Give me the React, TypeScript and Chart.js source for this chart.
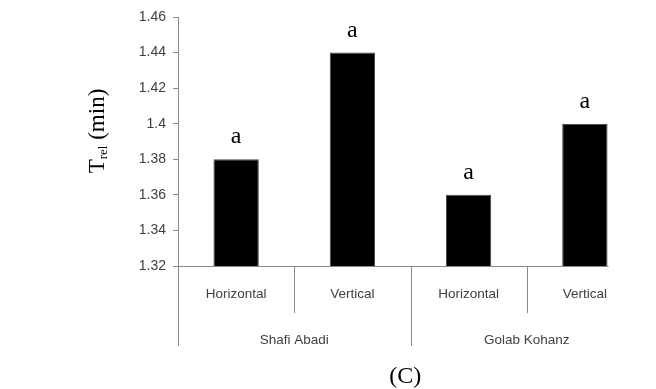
import React, { useEffect, useRef } from "react";
import { Chart, registerables } from "chart.js";

Chart.register(...registerables);

const categories = ["Horizontal", "Vertical", "Horizontal", "Vertical"];
const groups = ["Shafi Abadi", "Golab Kohanz"];
const values = [1.38, 1.44, 1.36, 1.4];
const letters = ["a", "a", "a", "a"];
const yMin = 1.32;
const yMax = 1.46;
const yStep = 0.02;
const caption = "(C)";

const AXIS = "#8a8a8a";

const overlay = {
  id: "overlay",
  afterDraw(chart: any) {
    const ctx = chart.ctx;
    const area = chart.chartArea;
    const xs = chart.scales.x;
    const meta = chart.getDatasetMeta(0);
    ctx.save();
    // x axis line
    ctx.strokeStyle = AXIS;
    ctx.lineWidth = 1;
    const yb = Math.round(area.bottom) + 0.5;
    const lastBar = meta.data[meta.data.length - 1];
    const xEnd = lastBar.x + lastBar.width / 2 + 1;
    ctx.beginPath();
    ctx.moveTo(area.left - 5, yb);
    ctx.lineTo(xEnd, yb);
    ctx.stroke();
    // dividers
    const n = categories.length;
    const bounds: number[] = [area.left];
    for (let i = 1; i < n; i++) {
      bounds.push((xs.getPixelForValue(i - 1) + xs.getPixelForValue(i)) / 2);
    }
    bounds.push(area.right);
    const perGroup = n / groups.length;
    for (let i = 0; i < n; i++) {
      const x = Math.round(bounds[i]) + 0.5;
      const long = i % perGroup === 0;
      ctx.beginPath();
      ctx.moveTo(x, yb);
      ctx.lineTo(x, area.bottom + (long ? 80 : 47));
      ctx.stroke();
    }
    // category labels
    ctx.fillStyle = "#404040";
    ctx.font = "13.5px 'Liberation Sans', Arial, sans-serif";
    ctx.textAlign = "center";
    ctx.textBaseline = "middle";
    for (let i = 0; i < n; i++) {
      ctx.fillText(categories[i], xs.getPixelForValue(i), area.bottom + 28);
    }
    for (let g = 0; g < groups.length; g++) {
      const l = bounds[g * perGroup];
      const r = bounds[(g + 1) * perGroup];
      ctx.fillText(groups[g], (l + r) / 2, area.bottom + 74);
    }
    // letters above bars
    ctx.fillStyle = "#000";
    ctx.font = "24px 'Liberation Serif', 'Times New Roman', serif";
    ctx.textBaseline = "alphabetic";
    meta.data.forEach((bar: any, i: number) => {
      ctx.fillText(letters[i], bar.x, bar.y - 16);
    });
    // caption
    ctx.font = "24px 'Liberation Serif', 'Times New Roman', serif";
    ctx.textBaseline = "middle";
    ctx.fillText(caption, (bounds[0] + xEnd) / 2 + 12, 377);
    // y title
    ctx.translate(96, 131);
    ctx.rotate(-Math.PI / 2);
    ctx.textAlign = "left";
    ctx.textBaseline = "alphabetic";
    const big = "23px 'Liberation Serif', 'Times New Roman', serif";
    const small = "13px 'Liberation Serif', 'Times New Roman', serif";
    ctx.font = big;
    const wT = ctx.measureText("T").width;
    ctx.font = small;
    const wSub = ctx.measureText("rel").width;
    ctx.font = big;
    const wRest = ctx.measureText(" (min)").width;
    const total = wT + wSub + wRest;
    let x0 = -total / 2;
    const base = 8;
    ctx.fillText("T", x0, base);
    x0 += wT;
    ctx.font = small;
    ctx.fillText("rel", x0, base + 3);
    x0 += wSub;
    ctx.font = big;
    ctx.fillText(" (min)", x0, base);
    ctx.restore();
  },
};

export default function App() {
  const ref = useRef<HTMLCanvasElement | null>(null);
  useEffect(() => {
    if (!ref.current) return;
    const chart = new Chart(ref.current, {
      type: "bar",
      data: {
        labels: categories,
        datasets: [
          {
            data: values,
            backgroundColor: "#000",
            borderColor: "#444",
            borderWidth: 1,
            barPercentage: 0.39,
            categoryPercentage: 1,
          },
        ],
      },
      options: {
        animation: false,
        responsive: false,
        layout: { padding: { left: 0, right: 13, top: 17, bottom: 123 } },
        plugins: { legend: { display: false }, tooltip: { enabled: false } },
        scales: {
          x: { display: false },
          y: {
            min: yMin,
            max: yMax,
            afterFit: (scale: any) => {
              scale.width = 178;
            },
            ticks: {
              stepSize: yStep,
              padding: 7,
              color: "#404040",
              font: { family: "'Liberation Sans', Arial, sans-serif", size: 14 },
              callback: (v: any) => String(Number(Number(v).toFixed(2))),
            },
            grid: { drawOnChartArea: false, tickLength: 5, color: AXIS },
            border: { color: AXIS },
          },
        },
      },
      plugins: [overlay],
    });
    return () => chart.destroy();
  }, []);
  return (
    <div style={{ position: "absolute", left: 0, top: 0, width: 656, height: 389, background: "#fff" }}>
      <canvas ref={ref} width={656} height={389} />
    </div>
  );
}
